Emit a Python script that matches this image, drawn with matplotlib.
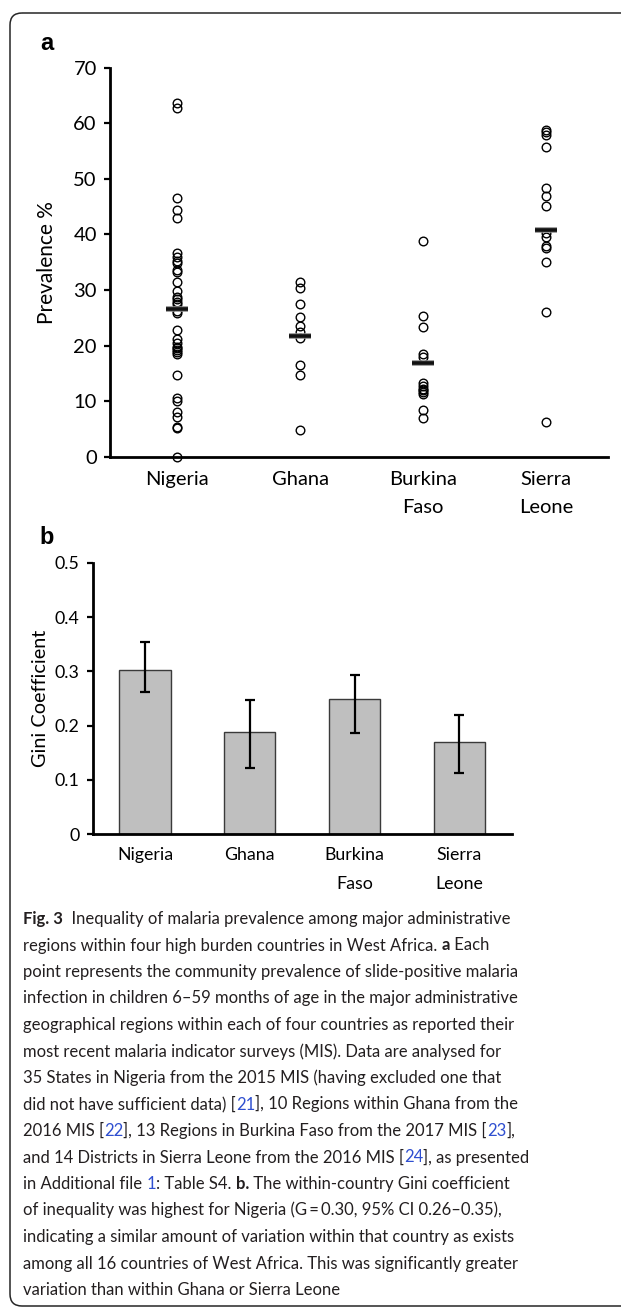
import matplotlib

matplotlib.use("Agg")

import matplotlib.pyplot as plt  # noqa: E402
import matplotlib.patheffects as pe  # noqa: E402
from matplotlib.patches import FancyBboxPatch  # noqa: E402

# --------------------------------------------------------------------------- #
# Data
# --------------------------------------------------------------------------- #
countries = ["Nigeria", "Ghana", "Burkina\nFaso", "Sierra\nLeone"]

nigeria = [63.6, 62.7, 46.6, 44.4, 42.9, 36.6, 36.0, 35.3, 34.8, 33.6, 33.2,
           31.4, 29.9, 28.8, 28.3, 27.9, 27.4, 26.2, 25.8, 22.8, 21.2, 20.4,
           19.8, 19.5, 19.2, 18.9, 18.5, 14.7, 10.5, 10.1, 8.1, 7.2, 5.4, 5.1,
           0.0]
ghana = [31.4, 30.3, 27.4, 25.2, 23.5, 22.5, 21.4, 16.5, 14.7, 4.8]
burkina = [38.8, 25.4, 23.4, 18.4, 17.9, 13.2, 12.7, 12.2, 12.0, 11.7, 11.3,
           8.4, 7.0]
sierra = [58.8, 58.4, 57.9, 55.7, 48.4, 46.9, 45.2, 40.3, 39.6, 38.0, 37.6,
          35.0, 26.1, 6.2]
centre_line = [26.5, 21.7, 16.8, 40.8]

gini = [0.303, 0.189, 0.250, 0.169]
gini_low = [0.262, 0.122, 0.187, 0.113]
gini_high = [0.354, 0.248, 0.294, 0.219]

W, H = 621, 1309
CHART_FONT = ["Lato", "DejaVu Sans"]
TEXT_FONT = ["Lato", "DejaVu Sans"]
LINK = "#2f4fd0"

fig = plt.figure(figsize=(W / 100, H / 100), dpi=100)


def px_axes(left, top, right, bottom, **kw):
    """Axes placed by pixel edges (origin top-left)."""
    return fig.add_axes([left / W, 1 - bottom / H, (right - left) / W, (bottom - top) / H], **kw)


def style_axes(ax, size):
    for side in ("top", "right"):
        ax.spines[side].set_visible(False)
    for side in ("left", "bottom"):
        ax.spines[side].set_linewidth(2.0)
    ax.tick_params(axis="y", direction="out", length=4.5, width=1.6, pad=5, labelsize=size)
    ax.tick_params(axis="x", length=0, labelsize=size)
    for lab in ax.get_xticklabels() + ax.get_yticklabels():
        lab.set_family(CHART_FONT)


# --------------------------------------------------------------------------- #
# a: prevalence per region
# --------------------------------------------------------------------------- #
ax1 = px_axes(110, 67.7, 607.7, 456.7)
for i, vals in enumerate([nigeria, ghana, burkina, sierra]):
    ax1.plot([i] * len(vals), vals, "o", ms=6.2, mfc="none", mec="black", mew=1.0,
             clip_on=False, zorder=3)
ax1.plot(range(4), centre_line, "_", ms=16, mew=2.6, color="#111111", zorder=4,
         path_effects=[pe.Stroke(linewidth=4, foreground="#8a8a8a"), pe.Normal()])
ax1.set_xlim(-0.545, 3.5)
ax1.set_ylim(0, 70)
ax1.set_yticks(range(0, 71, 10))
ax1.set_xticks(range(4))
ax1.set_xticklabels(countries, linespacing=1.85)
style_axes(ax1, 14.5)
ax1.tick_params(axis="x", pad=10)
ax1.set_ylabel("Prevalence %", family=CHART_FONT, fontsize=15, labelpad=12)

# --------------------------------------------------------------------------- #
# b: Gini coefficient
# --------------------------------------------------------------------------- #
ax2 = px_axes(92.7, 562.7, 511.7, 834.3)
err = [[g - lo for g, lo in zip(gini, gini_low)], [hi - g for g, hi in zip(gini, gini_high)]]
ax2.bar(range(4), gini, width=0.49, color="#bfbfbf", edgecolor="#3a3a3a", linewidth=1.0,
        yerr=err, error_kw=dict(ecolor="black", elinewidth=1.6, capsize=3.5, capthick=1.6),
        zorder=2)
ax2.set_xlim(-0.5, 3.5)
ax2.set_ylim(0, 0.5)
ax2.set_yticks([0, 0.1, 0.2, 0.3, 0.4, 0.5])
ax2.set_yticklabels(["0", "0.1", "0.2", "0.3", "0.4", "0.5"])
ax2.set_xticks(range(4))
ax2.set_xticklabels(countries, linespacing=2.05)
style_axes(ax2, 12.8)
ax2.tick_params(axis="x", pad=9)
ax2.set_ylabel("Gini Coefficient", family=CHART_FONT, fontsize=14.3, labelpad=4)

# --------------------------------------------------------------------------- #
# Frame, panel letters and caption (pixel coordinates)
# --------------------------------------------------------------------------- #
ov = fig.add_axes([0, 0, 1, 1], zorder=10)
ov.set_xlim(0, W)
ov.set_ylim(H, 0)
ov.axis("off")
ov.add_patch(FancyBboxPatch((10, 13), 660, 1293, boxstyle="round,pad=0,rounding_size=12",
                            linewidth=1.1, edgecolor="#262626", facecolor="none"))
ov.text(40, 43, "a", family=["Liberation Sans"], weight="bold", fontsize=17, va="center")
ov.text(39, 537, "b", family=["Liberation Sans"], weight="bold", fontsize=17, va="center")

caption = [
    [("Fig. 3", "b"), ("  Inequality of malaria prevalence among major administrative", "n")],
    [("regions within four high burden countries in West Africa. ", "n"), ("a", "b"), (" Each", "n")],
    [("point represents the community prevalence of slide-positive malaria", "n")],
    [("infection in children 6\u201359 months of age in the major administrative", "n")],
    [("geographical regions within each of four countries as reported their", "n")],
    [("most recent malaria indicator surveys (MIS). Data are analysed for", "n")],
    [("35 States in Nigeria from the 2015 MIS (having excluded one that", "n")],
    [("did not have sufficient data) [", "n"), ("21", "l"), ("], 10 Regions within Ghana from the", "n")],
    [("2016 MIS [", "n"), ("22", "l"), ("], 13 Regions in Burkina Faso from the 2017 MIS [", "n"),
     ("23", "l"), ("],", "n")],
    [("and 14 Districts in Sierra Leone from the 2016 MIS [", "n"), ("24", "l"),
     ("], as presented", "n")],
    [("in Additional file ", "n"), ("1", "l"), (": Table S4. ", "n"), ("b.", "b"),
     (" The within-country Gini coefficient", "n")],
    [("of inequality was highest for Nigeria (G\u2009=\u20090.30, 95% CI 0.26\u20130.35),", "n")],
    [("indicating a similar amount of variation within that country as exists", "n")],
    [("among all 16 countries of West Africa. This was significantly greater", "n")],
    [("variation than within Ghana or Sierra Leone", "n")],
]

renderer = fig.canvas.get_renderer()


def text_width(s, size, weight):
    """Advance width in pixels, trailing spaces included."""
    probe = fig.text(0, 0, s + "|", fontsize=size, weight=weight, family=TEXT_FONT)
    bar = fig.text(0, 0, "|", fontsize=size, weight=weight, family=TEXT_FONT)
    w = probe.get_window_extent(renderer).width - bar.get_window_extent(renderer).width
    probe.remove()
    bar.remove()
    return w


def line_width(segments, size):
    return sum(text_width(s, size, "bold" if k == "b" else "normal") for s, k in segments)


cap_size = 10 * 487 / line_width(caption[0], 10)
x0, y0, step = 23, 924, 26.5
for row, segments in enumerate(caption):
    x = x0
    for s, kind in segments:
        weight = "bold" if kind == "b" else "normal"
        colour = LINK if kind == "l" else "#231f20"
        ov.text(x, y0 + row * step, s, fontsize=cap_size, weight=weight, color=colour,
                family=TEXT_FONT, va="baseline", ha="left")
        x += text_width(s, cap_size, weight)

fig.savefig("out.png", dpi=100)
